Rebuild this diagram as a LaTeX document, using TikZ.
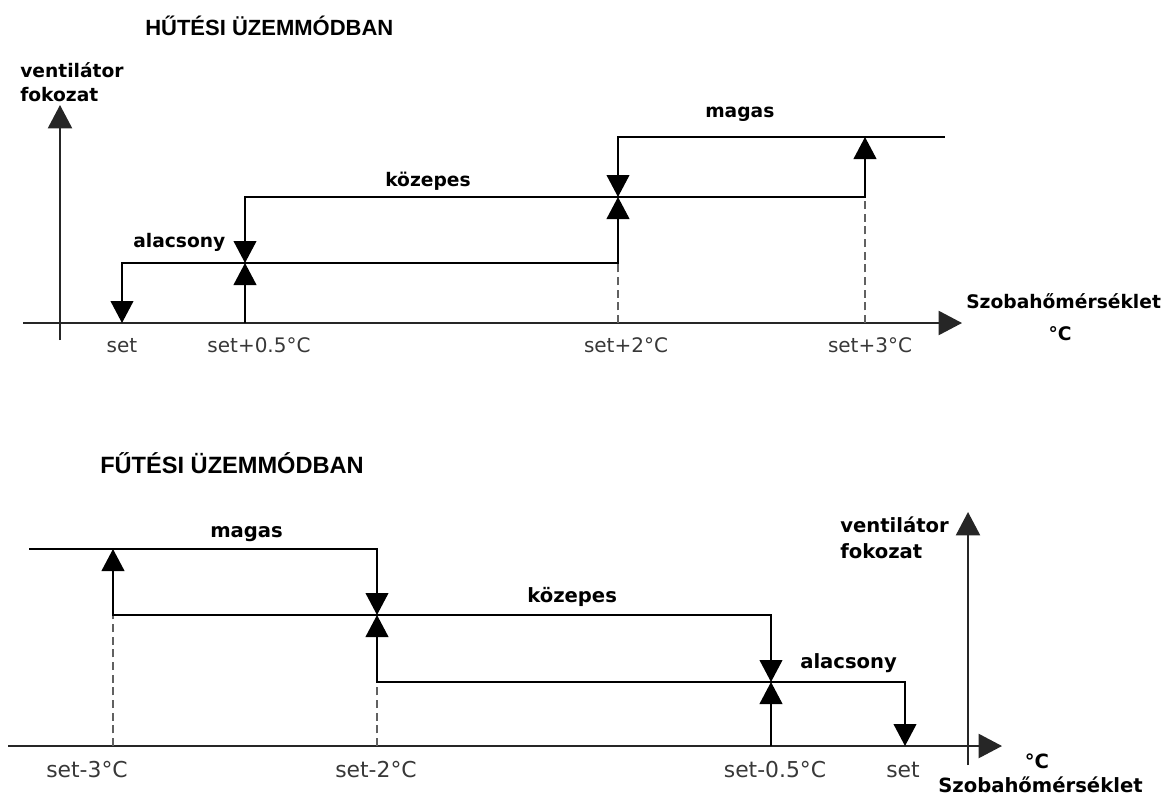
\documentclass[tikz,border=0pt]{standalone}
\usepackage{fontspec}
\usetikzlibrary{arrows.meta}
\newfontfamily\dvs{DejaVu Sans}
\newfontfamily\ttlfont{Liberation Sans}
\begin{document}
\begin{tikzpicture}[x=0.75pt,y=-0.75pt,
  >={Triangle[length=16.5pt,width=17pt]},
  line/.style={line width=1.5pt,black,line join=miter},
  axis/.style={line width=1.6pt,black!85,-{Triangle[length=17.5pt,width=18pt]}},
  guide/.style={line width=1.5pt,black!62,dash pattern=on 6pt off 3.5pt},
  ttlA/.style={inner sep=0,anchor=base west,font=\ttlfont\bfseries\fontsize{16.5}{19}\selectfont},
  ttlB/.style={inner sep=0,anchor=base west,font=\ttlfont\bfseries\fontsize{17.7}{20}\selectfont},
  lblA/.style={inner sep=0,anchor=base west,font=\dvs\bfseries\fontsize{14}{16}\selectfont},
  lblB/.style={inner sep=0,anchor=base west,font=\dvs\bfseries\fontsize{14.7}{17}\selectfont},
  tickA/.style={inner sep=0,anchor=base,text=black!78,font=\dvs\fontsize{15}{17}\selectfont},
  tickB/.style={inner sep=0,anchor=base,text=black!78,font=\dvs\fontsize{16.4}{19}\selectfont}]
\useasboundingbox[fill=white] (0,0) rectangle (1162,796);

% ---------------- top chart (cooling) ----------------
\coordinate (tYb) at (60,340);  \coordinate (tYt) at (60,105);
\coordinate (tXl) at (23,323);  \coordinate (tXr) at (962,323);
\coordinate (a0) at (122,323);  \coordinate (a1) at (122,263);
\coordinate (b0) at (245,323);  \coordinate (b1) at (245,263); \coordinate (b2) at (245,197);
\coordinate (c0) at (618,323);  \coordinate (c1) at (618,263); \coordinate (c2) at (618,197); \coordinate (c3) at (618,137);
\coordinate (d0) at (865,323);  \coordinate (d2) at (865,197); \coordinate (d3) at (865,137);
\coordinate (e3) at (945,137);

\draw[axis] (tXl) -- (tXr);
\draw[axis] (tYb) -- (tYt);
\draw[guide] (c0) -- (c1);
\draw[guide] (d0) -- (d2);
\draw[line,<->] (a0) -- (a1) -- (c1) -- (c2);
\draw[line,->] (b0) -- (b1);
\draw[line,<->] (b1) -- (b2) -- (d2) -- (d3);
\draw[line,<-] (c2) -- (c3) -- (e3);

\node[ttlA] (t1) at (145,35) {HŰTÉSI ÜZEMMÓDBAN};
\node[lblA] (t2) at (20,77) {ventilátor};
\node[lblA] (t3) at (20,101) {fokozat};
\node[lblA] (t4) at (133,247) {alacsony};
\node[lblA] (t5) at (385,186) {közepes};
\node[lblA] (t6) at (705,117) {magas};
\node[lblA] (t7) at (966,308) {Szobahőmérséklet};
\node[lblA,anchor=base] (t8) at (1060,340) {°C};
\node[tickA] (k1) at (122,352) {set};
\node[tickA] (k2) at (259,352) {set+0.5°C};
\node[tickA] (k3) at (626,352) {set+2°C};
\node[tickA] (k4) at (870,352) {set+3°C};

% ---------------- bottom chart (heating) ----------------
\coordinate (bYb) at (968,765);  \coordinate (bYt) at (968,512);
\coordinate (bXl) at (8,746);    \coordinate (bXr) at (1002,746);
\coordinate (m3) at (29,549);
\coordinate (p0) at (113,746);  \coordinate (p2) at (113,615); \coordinate (p3) at (113,549);
\coordinate (q0) at (377,746);  \coordinate (q1) at (377,682); \coordinate (q2) at (377,615); \coordinate (q3) at (377,549);
\coordinate (r0) at (771,746);  \coordinate (r1) at (771,682); \coordinate (r2) at (771,615);
\coordinate (s0) at (905,746);  \coordinate (s1) at (905,682);

\draw[axis] (bXl) -- (bXr);
\draw[axis] (bYb) -- (bYt);
\draw[guide] (p0) -- (p2);
\draw[guide] (q0) -- (q1);
\draw[line,->] (m3) -- (q3) -- (q2);
\draw[line,<->] (p3) -- (p2) -- (r2) -- (r1);
\draw[line,<->] (q2) -- (q1) -- (s1) -- (s0);
\draw[line,->] (r0) -- (r1);

\node[ttlB] (u1) at (100,473) {FŰTÉSI ÜZEMMÓDBAN};
\node[lblB] (u2) at (840,532) {ventilátor};
\node[lblB] (u3) at (840,558) {fokozat};
\node[lblB] (u4) at (210,537) {magas};
\node[lblB] (u5) at (527,602) {közepes};
\node[lblB] (u6) at (800,668) {alacsony};
\node[lblB,anchor=base] (u7) at (1037,768) {°C};
\node[lblB] (u8) at (938,792) {Szobahőmérséklet};
\node[tickB] (v1) at (87,777) {set-3°C};
\node[tickB] (v2) at (376,777) {set-2°C};
\node[tickB] (v3) at (775,777) {set-0.5°C};
\node[tickB] (v4) at (903,777) {set};
\end{tikzpicture}
\end{document}
